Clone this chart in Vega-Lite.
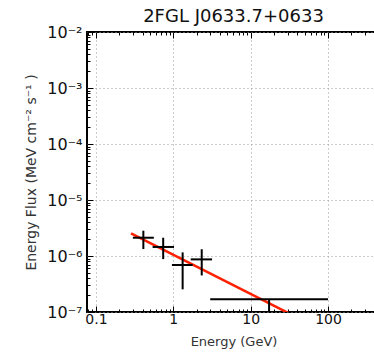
{
  "$schema": "https://vega.github.io/schema/vega-lite/v6.json",
  "width": 293,
  "height": 280,
  "autosize": "none",
  "padding": {"left": 87, "top": 32, "right": 0, "bottom": 48},
  "config": {
    "font": "DejaVu Sans",
    "view": {"stroke": "black", "strokeWidth": 2},
    "axis": {"domain": false, "tickColor": "black", "tickWidth": 1, "labelColor": "#111", "titleColor": "#333", "titleFontWeight": "normal", "gridColor": "#999", "gridDash": [1, 3], "gridWidth": 1}
  },
  "title": {"text": "2FGL J0633.7+0633", "fontSize": 18, "fontWeight": "normal", "color": "#111", "offset": -2},
  "datasets": {
    "points": [
      {"e": 0.41, "elo": 0.30, "ehi": 0.56, "f": 2.12e-6, "flo": 1.33e-6, "fhi": 2.83e-6},
      {"e": 0.74, "elo": 0.54, "ehi": 1.02, "f": 1.45e-6, "flo": 8.8e-7, "fhi": 2.12e-6},
      {"e": 1.32, "elo": 0.96, "ehi": 1.78, "f": 6.9e-7, "flo": 2.54e-7, "fhi": 1.16e-6},
      {"e": 2.33, "elo": 1.68, "ehi": 3.17, "f": 8.7e-7, "flo": 4.5e-7, "fhi": 1.32e-6}
    ],
    "limit": [
      {"e": 17.3, "elo": 3.0, "ehi": 100, "f": 1.69e-7, "fbottom": 1e-7}
    ],
    "model": [
      {"e": 0.284, "f": 2.54e-6},
      {"e": 100, "f": 4.2e-8}
    ]
  },
  "layer": [
    {
      "data": {"name": "model"},
      "mark": {"type": "line", "color": "#ff2000", "strokeWidth": 2.5, "clip": true},
      "encoding": {
        "x": {"field": "e", "type": "quantitative",
          "scale": {"type": "log", "domain": [0.0766, 470], "nice": false},
          "axis": {
            "title": "Energy (GeV)", "titleFontSize": 13, "titlePadding": 9,
            "values": [0.08, 0.09, 0.1, 0.2, 0.3, 0.4, 0.5, 0.6, 0.7, 0.8, 0.9, 1, 2, 3, 4, 5, 6, 7, 8, 9, 10, 20, 30, 40, 50, 60, 70, 80, 90, 100, 200, 300, 400],
            "labelFontSize": 14, "labelPadding": 6,
            "labelExpr": "abs(datum.value / pow(10, round(log(datum.value)/LN10)) - 1) < 1e-6 ? (datum.value < 1 ? '0.1' : format(datum.value, 'd')) : ''",
            "tickSize": {"condition": {"test": "abs(datum.value / pow(10, round(log(datum.value)/LN10)) - 1) < 1e-6", "value": -6}, "value": -3},
            "gridOpacity": {"condition": {"test": "abs(datum.value / pow(10, round(log(datum.value)/LN10)) - 1) < 1e-6", "value": 1}, "value": 0}
          }
        },
        "y": {"field": "f", "type": "quantitative",
          "scale": {"type": "log", "domain": [1e-7, 1e-2], "nice": false},
          "axis": {
            "title": "Energy Flux (MeV cm⁻² s⁻¹ )", "titleFontSize": 14, "titlePadding": 8,
            "values": [1e-7, 2e-7, 3e-7, 4e-7, 5e-7, 6e-7, 7e-7, 8e-7, 9e-7, 1e-6, 2e-6, 3e-6, 4e-6, 5e-6, 6e-6, 7e-6, 8e-6, 9e-6, 1e-5, 2e-5, 3e-5, 4e-5, 5e-5, 6e-5, 7e-5, 8e-5, 9e-5, 1e-4, 2e-4, 3e-4, 4e-4, 5e-4, 6e-4, 7e-4, 8e-4, 9e-4, 1e-3, 2e-3, 3e-3, 4e-3, 5e-3, 6e-3, 7e-3, 8e-3, 9e-3, 1e-2],
            "labelFontSize": 16, "labelPadding": 11,
            "labelExpr": "abs(datum.value / pow(10, round(log(datum.value)/LN10)) - 1) < 1e-6 ? '10⁻' + substring('⁰¹²³⁴⁵⁶⁷⁸⁹', -round(log(datum.value)/LN10), -round(log(datum.value)/LN10) + 1) : ''",
            "tickSize": {"condition": {"test": "abs(datum.value / pow(10, round(log(datum.value)/LN10)) - 1) < 1e-6", "value": -6}, "value": -3},
            "gridOpacity": {"condition": {"test": "abs(datum.value / pow(10, round(log(datum.value)/LN10)) - 1) < 1e-6", "value": 1}, "value": 0}
          }
        }
      }
    },
    {
      "data": {"name": "points"},
      "mark": {"type": "rule", "color": "black", "strokeWidth": 2},
      "encoding": {
        "x": {"field": "elo", "type": "quantitative", "scale": {"type": "log"}, "axis": null},
        "x2": {"field": "ehi"},
        "y": {"field": "f", "type": "quantitative", "scale": {"type": "log"}, "axis": null}
      }
    },
    {
      "data": {"name": "points"},
      "mark": {"type": "rule", "color": "black", "strokeWidth": 2},
      "encoding": {
        "x": {"field": "e", "type": "quantitative", "scale": {"type": "log"}, "axis": null},
        "y": {"field": "flo", "type": "quantitative", "scale": {"type": "log"}, "axis": null},
        "y2": {"field": "fhi"}
      }
    },
    {
      "data": {"name": "limit"},
      "mark": {"type": "rule", "color": "black", "strokeWidth": 2},
      "encoding": {
        "x": {"field": "elo", "type": "quantitative", "scale": {"type": "log"}, "axis": null},
        "x2": {"field": "ehi"},
        "y": {"field": "f", "type": "quantitative", "scale": {"type": "log"}, "axis": null}
      }
    },
    {
      "data": {"name": "limit"},
      "mark": {"type": "rule", "color": "black", "strokeWidth": 2},
      "encoding": {
        "x": {"field": "e", "type": "quantitative", "scale": {"type": "log"}, "axis": null},
        "y": {"field": "f", "type": "quantitative", "scale": {"type": "log"}, "axis": null},
        "y2": {"field": "fbottom"}
      }
    },
    {
      "data": {"name": "model"},
      "mark": {"type": "line", "opacity": 0},
      "encoding": {
        "x": {"field": "e", "type": "quantitative", "scale": {"type": "log"},
          "axis": {
            "orient": "top", "title": null, "labels": false, "grid": false,
            "values": [0.08, 0.09, 0.1, 0.2, 0.3, 0.4, 0.5, 0.6, 0.7, 0.8, 0.9, 1, 2, 3, 4, 5, 6, 7, 8, 9, 10, 20, 30, 40, 50, 60, 70, 80, 90, 100, 200, 300, 400],
            "tickSize": {"condition": {"test": "abs(datum.value / pow(10, round(log(datum.value)/LN10)) - 1) < 1e-6", "value": -6}, "value": -3}
          }
        },
        "y": {"field": "f", "type": "quantitative", "scale": {"type": "log"},
          "axis": {
            "orient": "right", "title": null, "labels": false, "grid": false,
            "values": [1e-7, 2e-7, 3e-7, 4e-7, 5e-7, 6e-7, 7e-7, 8e-7, 9e-7, 1e-6, 2e-6, 3e-6, 4e-6, 5e-6, 6e-6, 7e-6, 8e-6, 9e-6, 1e-5, 2e-5, 3e-5, 4e-5, 5e-5, 6e-5, 7e-5, 8e-5, 9e-5, 1e-4, 2e-4, 3e-4, 4e-4, 5e-4, 6e-4, 7e-4, 8e-4, 9e-4, 1e-3, 2e-3, 3e-3, 4e-3, 5e-3, 6e-3, 7e-3, 8e-3, 9e-3, 1e-2],
            "tickSize": {"condition": {"test": "abs(datum.value / pow(10, round(log(datum.value)/LN10)) - 1) < 1e-6", "value": -6}, "value": -3}
          }
        }
      }
    }
  ],
  "resolve": {"axis": {"x": "independent", "y": "independent"}}
}
